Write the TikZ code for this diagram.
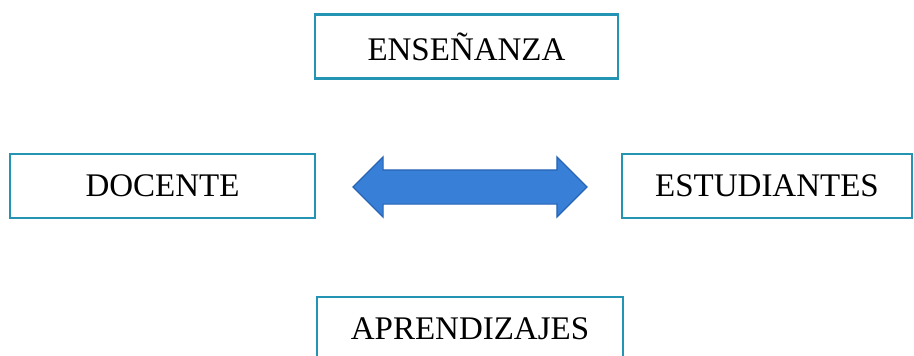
\documentclass[tikz,border=0pt]{standalone}
\usepackage{fontspec}
\setmainfont{Liberation Serif}
\usetikzlibrary{shapes, shapes.arrows, arrows, positioning}

\definecolor{boxline}{RGB}{35,148,180}
\definecolor{arrowfill}{RGB}{55,127,215}
\definecolor{arrowline}{RGB}{40,100,180}

\begin{document}
\begin{tikzpicture}
  [
  x = 1pt, y = -1pt,
  % block
  block/.style = {rectangle,
    draw = boxline, line width = 2.8pt,
    inner sep = 0pt,
    minimum height = 64pt,
    font = \fontsize{33}{40}\selectfont},
  % double arrow
  panah/.style = {double arrow,
    fill = arrowfill, draw = arrowline, line width = 1.2pt,
    inner xsep = 0pt, inner ysep = 16.5pt,
    minimum height = 234pt,
    double arrow head extend = 13pt},
  ]

  \useasboundingbox (0,0) rectangle (914,356);
  \clip (0,0) rectangle (914,356);

  % nodes
  \node [block, minimum width = 303pt] (ense) at (466.5,46.5) {ENSEÑANZA};
  \node [block, minimum width = 305pt] (doc) at (162.5,186) {DOCENTE};
  \node [block, minimum width = 290pt] (est) at (767,186) {ESTUDIANTES};
  \node [block, minimum width = 306pt] (apr) at (470,329) {APRENDIZAJES};

  % arrow between docente and estudiantes
  \node [panah] (link) at (470,187) {};

\end{tikzpicture}
\end{document}
